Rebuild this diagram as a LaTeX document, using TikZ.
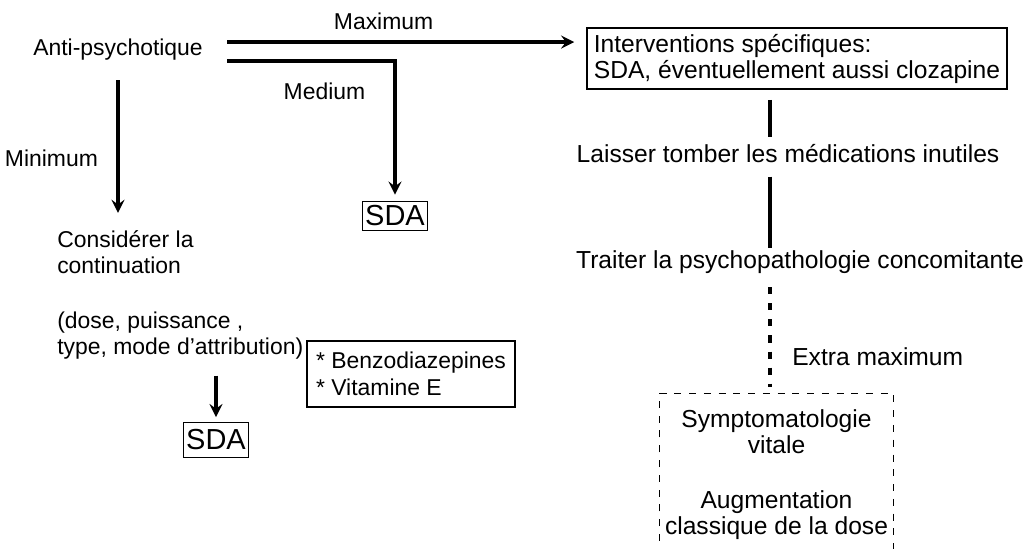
\documentclass[tikz,border=0pt]{standalone}
\usepackage{fontspec}
\setmainfont{Liberation Sans}
\usetikzlibrary{positioning}

\begin{document}
\begin{tikzpicture}[
    x=0.025cm, y=-0.025cm,
    ltxt/.style={inner sep=0pt, font=\fontsize{16.3}{18.8}\selectfont},
    rtxt/.style={inner sep=0pt, font=\fontsize{17.5}{18.5}\selectfont},
    box/.style={draw, line width=1.1pt, align=left},
    sda/.style={draw, line width=1.1pt, inner xsep=1.8pt, inner ysep=0pt, font=\fontsize{20.6}{24}\selectfont},
    flow/.style={->, >=stealth, line width=3pt},
    spine/.style={line width=3.2pt},
    dotline/.style={line width=3pt, dash pattern=on 5pt off 6.4pt},
    dashbox/.style={line width=0.7pt, dash pattern=on 5pt off 5.5pt}
]
\useasboundingbox (0,0) rectangle (1026,548);

% left column
\node[ltxt, anchor=base] (anti) at (118,55) {Anti-psychotique};
\node[ltxt, align=left, anchor=north west] (consider) at (57,230) {
    Considérer la\\
    continuation\\[20pt]
    (dose, puissance ,\\
    type, mode d’attribution)
};
\node[sda, minimum height=0.73cm] (sda1) at (395,216) {SDA};
\node[sda, minimum height=0.87cm] (sda2) at (216,440) {SDA};
\node[box, ltxt, minimum width=5.2cm, minimum height=1.65cm] (benzo) at (411,374) {
    * Benzodiazepines\\
    * Vitamine E
};

% right column
\node[box, rtxt, minimum width=10.5cm, minimum height=1.525cm] (inter) at (797,58.5) {
    Interventions spécifiques:\\
    SDA, éventuellement aussi clozapine
};
\node[rtxt, anchor=base] (laisser) at (788,162) {Laisser tomber les médications inutiles};
\node[rtxt, anchor=base] (traiter) at (800,268) {Traiter la psychopathologie concomitante};
\node[rtxt, anchor=base west] (extra) at (792,365) {Extra maximum};
\node[rtxt, align=center, minimum width=5.825cm, minimum height=4.05cm, anchor=north] (vital) at (776.5,393) {
    Symptomatologie\\
    vitale\\[20.5pt]
    Augmentation\\
    classique de la dose
};

% connectors
\coordinate (maxstart) at ([xshift=0.6cm,yshift=0.175cm]anti.east);
\coordinate (medstart) at ([xshift=0.6cm,yshift=-0.3cm]anti.east);
\coordinate (spine) at (770,0);

\draw[flow, shorten >=0.3cm] (maxstart) -- (maxstart -| inter.west)
    node[ltxt, pos=0.436, above=0.25cm] (maxlabel) {Maximum};
\draw[flow, shorten >=0.15cm] (medstart) -| (sda1.north)
    node[ltxt, pos=0.29, below=0.5cm] (medlabel) {Medium};
\draw[flow, shorten <=0.5cm, shorten >=0.43cm] (anti.south) -- (anti.south |- consider.north)
    node[ltxt, pos=0.58, left=0.45cm] (minlabel) {Minimum};
\draw[flow, shorten <=0.4cm, shorten >=0.12cm] (sda2.north |- consider.south) -- (sda2.north);

\draw[spine, shorten <=0.25cm, shorten >=0.16cm] (spine |- inter.south) -- (spine |- laisser.north);
\draw[spine, shorten <=0.35cm, shorten >=0.04cm] (spine |- laisser.south) -- (spine |- traiter.north);
\draw[dotline, shorten <=0.35cm, shorten >=0.15cm] (spine |- traiter.south) -- (spine |- vital.north);
\draw[dashbox] (vital.south west) -- (vital.north west) -- (vital.north east) -- (vital.south east);

\end{tikzpicture}
\end{document}
